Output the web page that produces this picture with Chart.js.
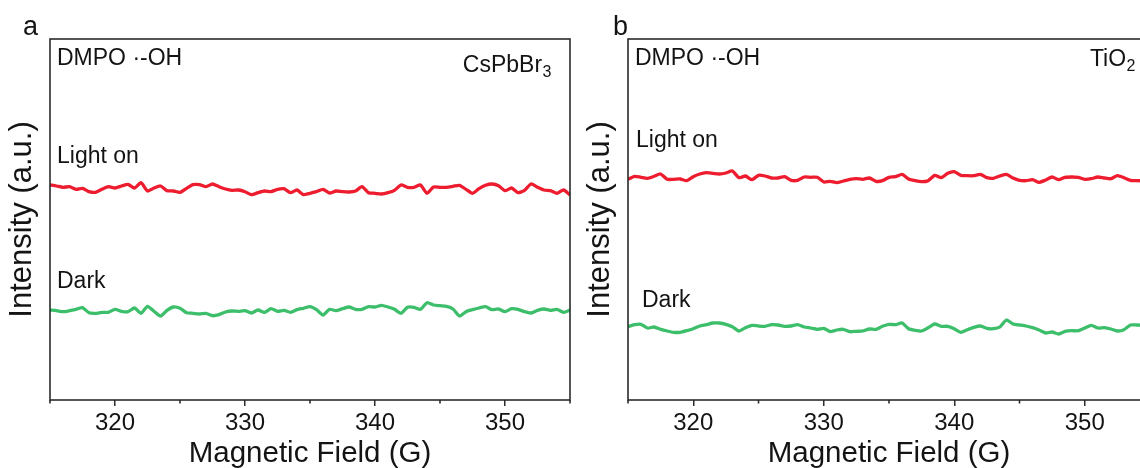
<!DOCTYPE html>
<html><head><meta charset="utf-8">
<script src="https://cdn.jsdelivr.net/npm/chart.js@4.4.0/dist/chart.umd.min.js"></script>
<style>
html,body{margin:0;padding:0;background:#fff;overflow:hidden;width:1140px;height:468px;}
#wrap{position:relative;width:1140px;height:468px;overflow:hidden;background:#fff;}
canvas{position:absolute;top:0;}
#ca{left:0;} #cb{left:578px;}
</style></head><body>
<div id="wrap"><canvas id="ca" width="580" height="468"></canvas><canvas id="cb" width="582" height="468"></canvas></div>
<script>
// Magnetic field (G)
const field = [315,315.5,316,316.5,317,317.5,318,318.5,319,319.5,
320,320.5,321,321.5,322,322.5,323,323.5,324,324.5,
325,325.5,326,326.5,327,327.5,328,328.5,329,329.5,
330,330.5,331,331.5,332,332.5,333,333.5,334,334.5,
335,335.5,336,336.5,337,337.5,338,338.5,339,339.5,
340,340.5,341,341.5,342,342.5,343,343.5,344,344.5,
345,345.5,346,346.5,347,347.5,348,348.5,349,349.5,
350,350.5,351,351.5,352,352.5,353,353.5,354,354.5,355];

// Panel a: CsPbBr3
const lightOnA = [215,214,212.7,213.3,210.7,211.7,208.3,207.7,210.7,213.3,
212,214,215.7,212,217.3,209,212,214,209.3,209,
207.7,211.7,215.3,215.3,213.3,216,213.3,211,209.7,210,
208.3,205.3,207.3,209,208.3,210.7,211.3,207.3,210,205.3,
206.7,208.3,210.7,207,209,208.3,208,209,213.3,207.3,
206.7,206,207.3,209.7,215,212.7,212.7,215,206.7,213,
212.7,212.7,213.7,214.7,210.7,206.7,211.3,214.7,216,214.3,
209.3,212,207.3,209.7,216,212.7,210,209.3,206.7,210,205];
const darkA = [90,89.3,88.3,89.3,90.7,92.3,87.3,86.7,87.7,87.7,
90.7,88.7,88.3,92,86.7,93.7,88.7,84,89.7,93,
91.7,87.3,86.7,86,86.7,84.3,85.3,88,89,88.7,
89.3,87,90,87.7,91.3,88.7,89.7,87.7,90.3,91.7,
93.3,90.3,85,90.7,89.3,91.3,93,90.7,90.7,93.3,
93,94.7,93,90.7,86.7,92.7,92.7,90.7,97.3,95,
94.3,93.7,91,84,88.3,90.3,92,93.3,90.3,91,
88.3,91.3,90.7,88.3,87,89.7,91,89.7,90.7,87.7,90];

// Panel b: TiO2
const lightOnB = [220.7,223.7,222.7,221.7,223.7,226,220.7,220.7,221,219.3,
223.3,226,227.3,226.7,226,227,229,222.3,224,220.3,
224.7,224,222,222,223.3,219.7,219.7,223,222.7,222.7,
218,218.7,217.3,219,220.7,221.3,220.7,222,218.7,219.3,
222.7,223.3,225.7,221,219.3,218.3,219.3,224.7,222.3,226.7,
228.3,224.7,224.3,224.3,225.7,222.3,221.7,224,225.7,222,
219.7,219.3,220.3,217.7,220,223,220.3,222.7,223,222.7,
220.7,221.3,223,222,221.3,224.3,222.3,219.7,219.3,219.3,220];
const darkB = [73.3,75.3,75.7,72,73,70.7,69,67.7,67.7,69.3,
71.3,74,75.3,77,77,75.7,73.3,69,72.3,74.7,
74,73.7,75.3,75,73.7,74,75.3,73,72,70.7,
71.7,68.3,70,70.7,68.3,68.7,69,71,70.7,73.7,
75.7,75.3,77,71.3,69.7,69,72.3,76,73.7,73.7,
71.3,67.7,70.3,72.7,74,71.7,71.3,73,80,76,
75,74,72.3,70,67,68,66,68.7,69.3,69.3,
72,74.7,72,72.3,71,69,70.3,75,75,74.7,74];

const majorTicks = [320,330,340,350];
const minorTicks = [315,325,335,345,355];
const FONT = "'Liberation Sans', Arial, Helvetica, sans-serif";
const RED = '#ed1c2e';
const GREEN = '#3cbe6b';
const INK = '#141414';

const decorPlugin = {
  id: 'decor',
  afterDraw(chart, args, o) {
    const {ctx, chartArea: a, scales: {x}} = chart;
    ctx.save();
    // frame
    ctx.strokeStyle = '#2b2b2b';
    ctx.lineWidth = 1.6;
    ctx.strokeRect(a.left, a.top, a.right - a.left, a.bottom - a.top);
    // minor ticks
    ctx.beginPath();
    minorTicks.forEach(v => {
      const px = x.getPixelForValue(v);
      ctx.moveTo(px, a.bottom);
      ctx.lineTo(px, a.bottom + 3.5);
    });
    ctx.stroke();
    // texts
    ctx.fillStyle = INK;
    ctx.textBaseline = 'alphabetic';
    o.texts.forEach(t => {
      ctx.font = t.size + 'px ' + FONT;
      if (t.sub) {
        const wMain = ctx.measureText(t.text).width;
        ctx.font = Math.round(t.size * 0.68) + 'px ' + FONT;
        const wSub = ctx.measureText(t.sub).width;
        const left = t.align === 'right' ? t.x - wMain - wSub : t.x;
        ctx.font = t.size + 'px ' + FONT;
        ctx.textAlign = 'left';
        ctx.fillText(t.text, left, t.y);
        ctx.font = Math.round(t.size * 0.68) + 'px ' + FONT;
        ctx.fillText(t.sub, left + wMain + 0.5, t.y + 5);
      } else {
        ctx.textAlign = t.align || 'left';
        ctx.fillText(t.text, t.x, t.y);
      }
    });
    ctx.restore();
  }
};

function makeChart(id, light, dark, texts) {
  return new Chart(document.getElementById(id), {
    type: 'line',
    data: {
      datasets: [
        { label: 'Light on', data: field.map((f, i) => ({x: f, y: light[i]})),
          borderColor: RED, borderWidth: 3.3, pointRadius: 0, tension: 0.2, fill: false },
        { label: 'Dark', data: field.map((f, i) => ({x: f, y: dark[i]})),
          borderColor: GREEN, borderWidth: 3.3, pointRadius: 0, tension: 0.2, fill: false }
      ]
    },
    options: {
      responsive: false,
      animation: false,
      devicePixelRatio: 1,
      layout: { padding: { top: 39, right: 10, left: 0, bottom: 0 } },
      plugins: { legend: { display: false }, tooltip: { enabled: false }, decor: { texts } },
      scales: {
        x: {
          type: 'linear', min: 315, max: 355,
          afterFit: s => { s.height = 68; },
          afterBuildTicks: s => { s.ticks = [315,320,325,330,335,340,345,350,355].map(v => ({value: v})); },
          ticks: {
            autoSkip: false, maxRotation: 0, padding: 3, color: INK,
            font: { family: FONT, size: 24 },
            callback: v => majorTicks.includes(v) ? String(v) : ''
          },
          grid: {
            display: true, drawOnChartArea: false, drawTicks: true, tickLength: 6,
            lineWidth: 1.5,
            color: c => (c.tick && majorTicks.includes(c.tick.value)) ? '#2b2b2b' : 'rgba(0,0,0,0)'
          },
          border: { display: false },
          title: { display: true, text: 'Magnetic Field (G)', color: INK,
                   font: { family: FONT, size: 29.5, lineHeight: 1 }, padding: { top: 0, bottom: -1 } }
        },
        y: {
          type: 'linear', min: 0, max: 361,
          afterFit: s => { s.width = 50; },
          ticks: { display: false },
          grid: { display: false },
          border: { display: false },
          title: { display: true, text: 'Intensity (a.u.)', color: INK,
                   font: { family: FONT, size: 31, lineHeight: 1 }, padding: { top: 7, bottom: 0 } }
        }
      }
    },
    plugins: [decorPlugin]
  });
}

makeChart('ca', lightOnA, darkA, [
  { text: 'a', x: 23, y: 35, size: 27 },
  { text: 'DMPO \u00b7-OH', x: 57, y: 65, size: 23 },
  { text: 'CsPbBr', sub: '3', x: 551, y: 72, size: 23, align: 'right' },
  { text: 'Light on', x: 57, y: 163, size: 23 },
  { text: 'Dark', x: 57, y: 288, size: 23 }
]);
makeChart('cb', lightOnB, darkB, [
  { text: 'b', x: 35, y: 35, size: 27 },
  { text: 'DMPO \u00b7-OH', x: 57, y: 65, size: 23 },
  { text: 'TiO', sub: '2', x: 557, y: 66, size: 23, align: 'right' },
  { text: 'Light on', x: 58, y: 147, size: 23 },
  { text: 'Dark', x: 64, y: 307, size: 23 }
]);
</script>
</body></html>
